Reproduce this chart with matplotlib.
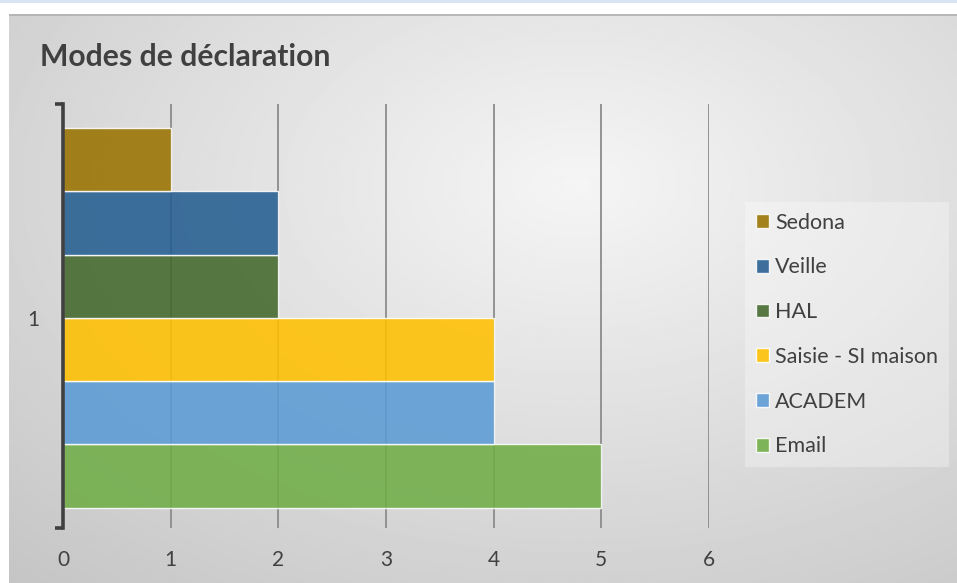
import numpy as np
import matplotlib
matplotlib.use('Agg')
from matplotlib import pyplot as plt
from matplotlib.patches import Rectangle

plt.rcParams['font.family'] = ['Lato', 'DejaVu Sans']

# data, listed bottom to top as drawn
modes = ['Email', 'ACADEM', 'Saisie - SI maison', 'HAL', 'Veille', 'Sedona']
counts = [5, 4, 4, 2, 2, 1]
colors = ['#70AD47', '#5B9BD5', '#FFC000', '#43682B', '#255E91', '#997300']
category = '1'
xticks = [0, 1, 2, 3, 4, 5, 6]

W, H = 957, 583
fig = plt.figure(figsize=(W / 100, H / 100), dpi=100)
fig.patch.set_facecolor('white')

# thin blue strip at the very top
fig.patches.append(Rectangle((0, 1 - 3 / H), 1, 3 / H, transform=fig.transFigure,
                             facecolor='#DAE3F3', edgecolor='none', zorder=0))

# chart area with radial gradient
bg = fig.add_axes([9 / W, 0, (W - 9) / W, (H - 14) / H])
bg.set_axis_off()
yy, xx = np.mgrid[0:1:300j, 0:1:500j]
r = np.sqrt(((xx - 0.6) / 0.75) ** 2 + ((yy - 0.3) / 0.8) ** 2)
img = 0.96 - 0.19 * np.clip(r, 0, 1.2) / 1.2
bg.imshow(img, cmap='gray', vmin=0, vmax=1, aspect='auto', extent=[0, 1, 1, 0])
bg.set_xlim(0, 1)
bg.set_ylim(1, 0)
bg.plot([0, 1], [0.002, 0.002], color='#B0B0B0', lw=1.2)

ax = fig.add_axes([63 / W, 55 / H, 646 / W, 424 / H])
ax.set_facecolor('none')
ypos = np.arange(len(modes))
for y, v, c, lab in zip(ypos, counts, colors, modes):
    ax.barh(y, v, height=1.0, color=c, alpha=0.88, edgecolor=(1, 1, 1, 0.45),
            linewidth=1.0, label=lab, zorder=3)

ax.set_xlim(0, 6)
ax.set_ylim(-0.5 - 0.32, len(modes) - 0.5 + 0.38)
ax.set_xticks(xticks)
ax.xaxis.grid(True, color='#8C8C8C', linewidth=1.3, zorder=1)
ax.set_axisbelow(True)
ax.tick_params(axis='x', length=0, pad=16, labelsize=15, labelcolor='#404040')

for s in ['top', 'right', 'bottom']:
    ax.spines[s].set_visible(False)
ax.spines['left'].set_linewidth(2.6)
ax.spines['left'].set_color('#404040')
ax.spines['left'].set_zorder(5)

ylo, yhi = ax.get_ylim()
ax.set_yticks([ylo, yhi])
ax.set_yticklabels(['', ''])
ax.tick_params(axis='y', which='major', length=6, width=2.6, color='#404040')
ax.set_yticks([(ylo + yhi) / 2 - 0.03], minor=True)
ax.set_yticklabels([category], minor=True)
ax.tick_params(axis='y', which='minor', length=0, pad=17, labelsize=15,
               labelcolor='#404040')

fig.text(40 / W, 1 - 57 / H, 'Modes de déclaration', fontsize=21.7, fontweight='bold',
         color='#404040', va='center', ha='left')

handles, labels = ax.get_legend_handles_labels()
leg = fig.legend(handles[::-1], labels[::-1], loc='center left',
                 bbox_to_anchor=(745 / W, (H - 334.5) / H), frameon=True,
                 fontsize=15.5, labelspacing=1.15, handlelength=0.6,
                 handleheight=0.6, handletextpad=0.3, borderpad=0.5,
                 borderaxespad=0, fancybox=False, labelcolor='#404040',
                 facecolor='white', framealpha=0.3)
leg.get_frame().set_edgecolor('none')

fig.savefig('out.png', dpi=100)
